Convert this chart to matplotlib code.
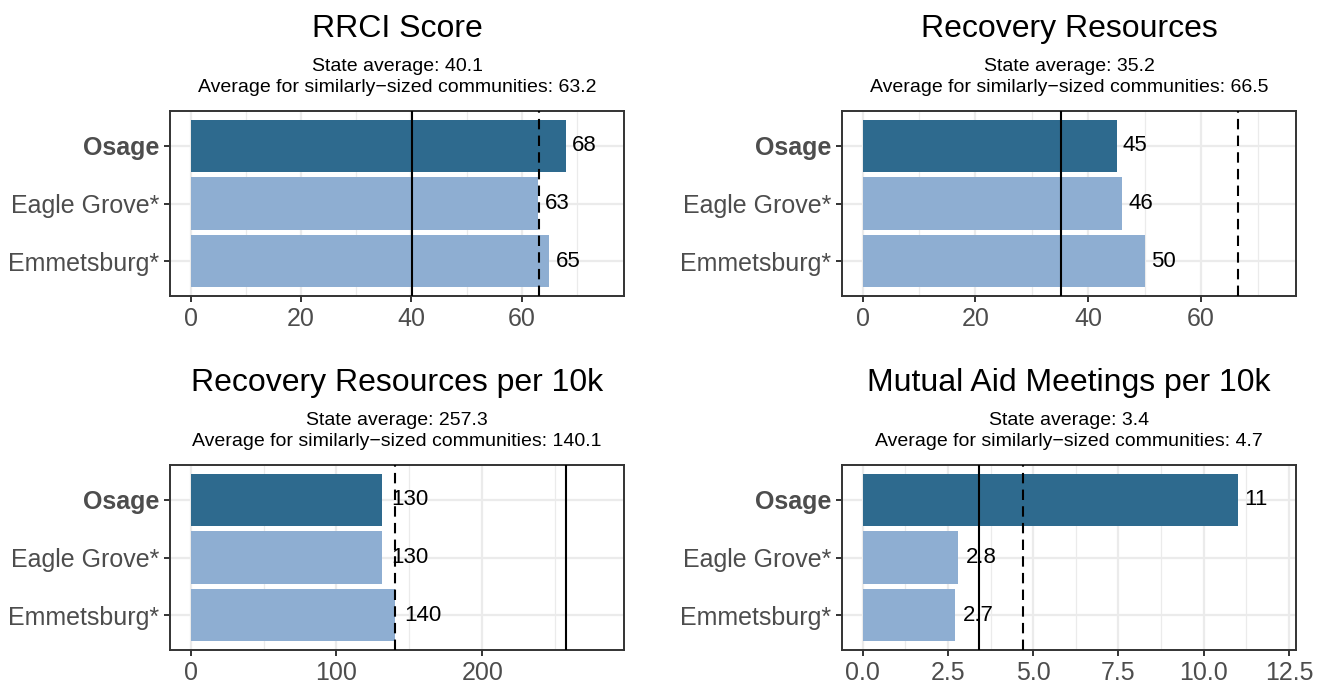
import numpy as np
import matplotlib.pyplot as plt
from matplotlib.ticker import MultipleLocator, FormatStrFormatter

plt.rcParams['font.family'] = ['Liberation Sans', 'DejaVu Sans']

# данные
communities = ['Osage', 'Eagle Grove*', 'Emmetsburg*']
titles = ['RRCI Score', 'Recovery Resources',
          'Recovery Resources per 10k', 'Mutual Aid Meetings per 10k']
rrci = [68, 63, 65]
resources = [45, 46, 50]
resources_10k = [130.9, 130.9, 140.4]
meetings_10k = [11.0, 2.8, 2.7]
bar_labels = [['68', '63', '65'], ['45', '46', '50'],
              ['130', '130', '140'], ['11', '2.8', '2.7']]
state_avg = [40.1, 35.2, 257.3, 3.4]
similar_avg = [63.2, 66.5, 140.1, 4.7]
major_step = [20, 20, 100, 2.5]
series = [rrci, resources, resources_10k, meetings_10k]

W, H = 1326, 683
fig = plt.figure(figsize=(W / 100, H / 100), dpi=100)

panel_left = [170, 842]
panel_top = [111, 465]
pw, ph = 454, 185
dark, light = '#2E6A8E', '#8EAED2'

for i, vals in enumerate(series):
    col, row = i % 2, i // 2
    left, top = panel_left[col], panel_top[row]
    ax = fig.add_axes([left / W, 1 - (top + ph) / H, pw / W, ph / H])

    y = np.arange(len(communities))[::-1] + 1
    colors = [dark] + [light] * (len(vals) - 1)
    ax.barh(y, vals, height=0.9, color=colors, zorder=2)

    # линии средних
    ax.axvline(state_avg[i], color='black', lw=1.5, zorder=3)
    ax.axvline(similar_avg[i], color='black', lw=1.5, dashes=(5, 3), zorder=3)

    fs = 16
    for yy, v, lab in zip(y, vals, bar_labels[i]):
        width = fs * (0.556 * sum(c.isdigit() for c in lab) + 0.278 * lab.count('.'))
        ax.annotate(lab, (v, yy), xytext=(0.25 * width, 0), textcoords='offset points',
                    ha='left', va='center', fontsize=fs, color='black', zorder=4)

    m = max(max(vals), state_avg[i], similar_avg[i]) * 1.1
    ax.set_xlim(-0.05 * m, 1.05 * m)
    ax.set_ylim(0.4, 3.6)

    step = major_step[i]
    ax.xaxis.set_major_locator(MultipleLocator(step))
    ax.xaxis.set_minor_locator(MultipleLocator(step / 2))
    if step % 1:
        ax.xaxis.set_major_formatter(FormatStrFormatter('%.1f'))
    else:
        ax.xaxis.set_major_formatter(FormatStrFormatter('%d'))
    ax.set_yticks(y)
    ax.set_yticklabels(communities)
    ax.get_yticklabels()[0].set_fontweight('bold')

    ax.grid(True, which='major', color='#EBEBEB', lw=1.6, zorder=0)
    ax.grid(True, which='minor', axis='x', color='#EBEBEB', lw=0.9, zorder=0)
    ax.set_axisbelow(True)
    ax.tick_params(which='major', length=4.5, width=1.4, color='#333333',
                   labelsize=18, labelcolor='#4D4D4D', pad=3.5)
    ax.tick_params(which='minor', length=0)
    for s in ax.spines.values():
        s.set_color('#333333')
        s.set_linewidth(1.4)

    cx = (left + pw / 2) / W
    off = row * 354
    fig.text(cx, 1 - (36.7 + off) / H, titles[i], ha='center', va='baseline', fontsize=23)
    fig.text(cx, 1 - (70.7 + off) / H, 'State average: %.1f' % state_avg[i],
             ha='center', va='baseline', fontsize=14)
    fig.text(cx, 1 - (91.7 + off) / H,
             'Average for similarly\u2212sized communities: %.1f' % similar_avg[i],
             ha='center', va='baseline', fontsize=14)

plt.savefig('out.png', dpi=100)
